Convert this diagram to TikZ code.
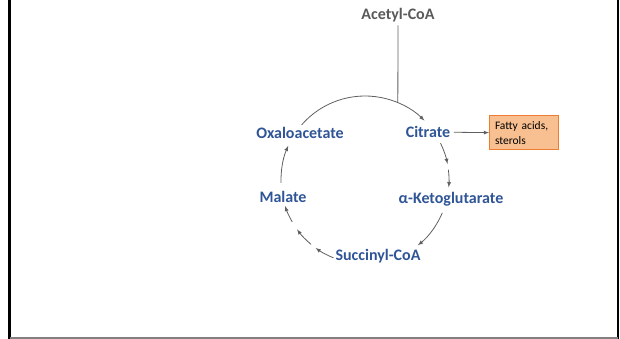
\documentclass[tikz,border=0pt]{standalone}
\usepackage{fontspec}
\setmainfont{Carlito}
\usetikzlibrary{arrows}
\definecolor{tcablue}{RGB}{47,85,151}
\definecolor{tcagray}{RGB}{89,89,89}
\definecolor{fattyfill}{RGB}{248,192,144}
\definecolor{fattyedge}{RGB}{237,125,49}
\definecolor{linegray}{RGB}{95,95,95}
\begin{document}
\begin{tikzpicture}[x=1pt,y=1pt,
  metab/.style={font=\fontsize{16}{19}\selectfont\bfseries,text=tcablue},
  cyc/.style={->,>=latex,draw=linegray,line width=0.8pt}]
\useasboundingbox (0,0) rectangle (620,339);
% frame
\draw[line width=3pt] (9.5,339) -- (9.5,0);
\draw[line width=2.5pt] (618,339) -- (618,0);
\draw[gray,line width=1.5pt] (9.5,1.2) -- (618,1.2);
% nodes
\coordinate (ctr) at (365,159);
\node[font=\fontsize{16}{19}\selectfont\bfseries,text=tcagray] (acetyl) at (398,324) {Acetyl-CoA};
\node[metab] (oxalo) at (300,206) {Oxaloacetate};
\node[metab] (citrate) at (428,207) {Citrate};
\node[metab] (akg) at (451,140) {α-Ketoglutarate};
\node[metab] (succ) at (378,83) {Succinyl-CoA};
\node[metab] (malate) at (283,142) {Malate};
\node[draw=fattyedge,fill=fattyfill,line width=1pt,align=left,text width=58pt,
  inner xsep=5.5pt,minimum height=34pt,font=\fontsize{11.5}{15}\selectfont]
  (fatty) at (524,206) {Fatty acids,\\sterols};
% connectors
\coordinate (join) at ([shift={(67:84)}]ctr);
\draw[linegray,line width=0.8pt] (acetyl.south) -- (join);
\draw[cyc] ([shift={(139:84)}]ctr) arc (139:45:84);
\draw[cyc] (citrate) -- (fatty);
\draw[cyc] ([shift={(26:84)}]ctr) arc (26:11:84);
\draw[cyc] ([shift={(7:84)}]ctr) arc (7:-5:84);
\draw[cyc] ([shift={(-23:84)}]ctr) arc (-23:-51:84);
\draw[cyc] ([shift={(248:84)}]ctr) arc (248:234:84);
\draw[cyc] ([shift={(230:84)}]ctr) arc (230:216:84);
\draw[cyc] ([shift={(210:84)}]ctr) arc (210:198:84);
\draw[cyc] ([shift={(182:84)}]ctr) arc (182:156:84);
\end{tikzpicture}
\end{document}
